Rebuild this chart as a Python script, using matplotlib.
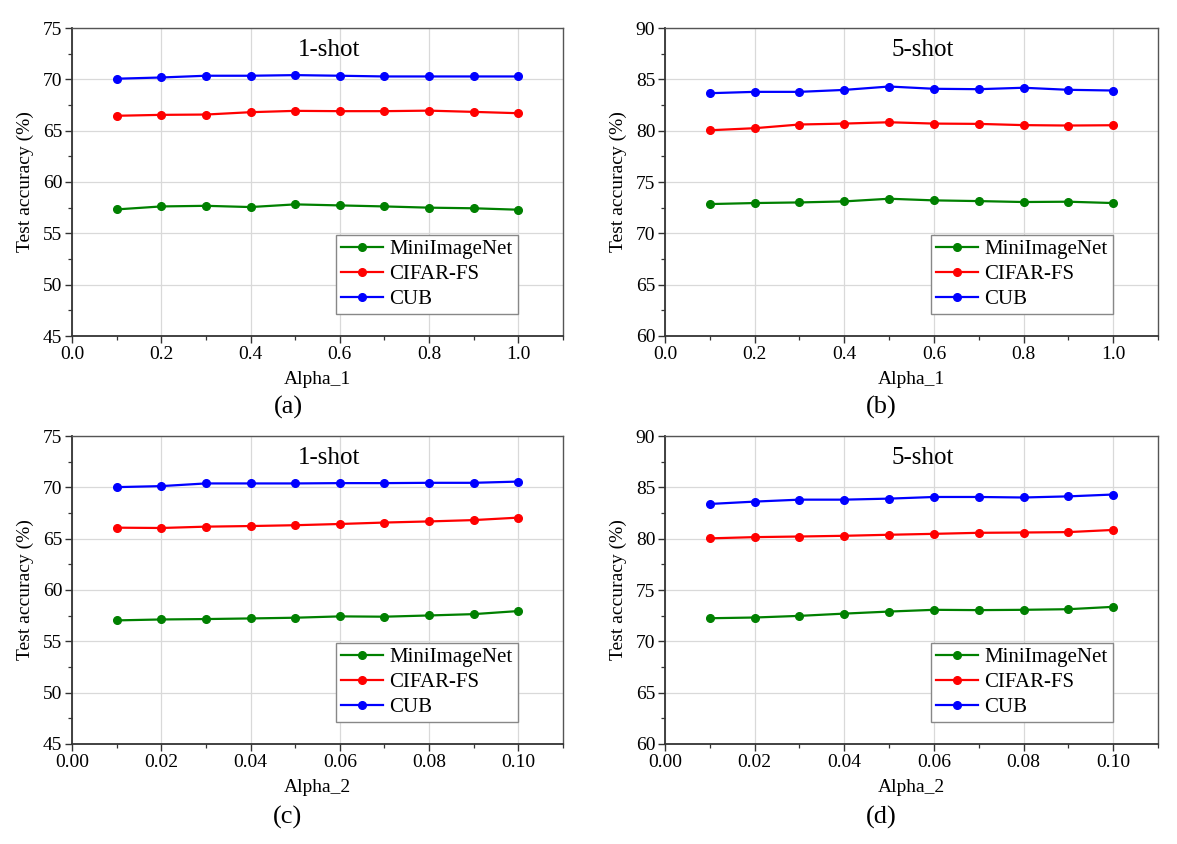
import matplotlib
matplotlib.use("Agg")
import matplotlib.pyplot as plt
from matplotlib.ticker import MultipleLocator, FormatStrFormatter

plt.rcParams['font.family'] = ['Liberation Serif', 'DejaVu Serif']
plt.rcParams['mathtext.fontset'] = 'stix'

# ---------------- data ----------------
alpha1 = [0.1, 0.2, 0.3, 0.4, 0.5, 0.6, 0.7, 0.8, 0.9, 1.0]
alpha2 = [0.01, 0.02, 0.03, 0.04, 0.05, 0.06, 0.07, 0.08, 0.09, 0.10]

# (a) 1-shot vs Alpha_1
a_mini = [57.33, 57.62, 57.68, 57.56, 57.82, 57.72, 57.62, 57.50, 57.44, 57.30]
a_cifar = [66.45, 66.54, 66.57, 66.80, 66.93, 66.90, 66.90, 66.95, 66.83, 66.70]
a_cub = [70.06, 70.18, 70.35, 70.35, 70.41, 70.35, 70.28, 70.28, 70.28, 70.28]

# (b) 5-shot vs Alpha_1
b_mini = [72.85, 72.95, 73.01, 73.11, 73.37, 73.21, 73.14, 73.05, 73.08, 72.95]
b_cifar = [80.04, 80.24, 80.60, 80.69, 80.82, 80.69, 80.66, 80.54, 80.50, 80.53]
b_cub = [83.65, 83.78, 83.78, 83.97, 84.30, 84.08, 84.04, 84.18, 83.98, 83.91]

# (c) 1-shot vs Alpha_2
c_mini = [57.04, 57.13, 57.17, 57.23, 57.30, 57.43, 57.40, 57.52, 57.65, 57.95]
c_cifar = [66.07, 66.04, 66.17, 66.23, 66.31, 66.43, 66.57, 66.68, 66.81, 67.05]
c_cub = [70.02, 70.12, 70.38, 70.38, 70.38, 70.41, 70.41, 70.44, 70.44, 70.56]

# (d) 5-shot vs Alpha_2
d_mini = [72.25, 72.32, 72.48, 72.70, 72.90, 73.07, 73.04, 73.07, 73.13, 73.36]
d_cifar = [80.03, 80.15, 80.21, 80.28, 80.38, 80.47, 80.57, 80.60, 80.64, 80.85]
d_cub = [83.38, 83.61, 83.80, 83.80, 83.90, 84.06, 84.06, 84.01, 84.12, 84.30]

series_names = ["MiniImageNet", "CIFAR-FS", "CUB"]
series_colors = ["#008000", "#ff0000", "#0000ff"]

titles = ["1-shot", "5-shot", "1-shot", "5-shot"]
xlabels = ["Alpha_1", "Alpha_1", "Alpha_2", "Alpha_2"]
panel_labels = ["(a)", "(b)", "(c)", "(d)"]

# ---------------- figure ----------------
W, H = 1177, 844
fig = plt.figure(figsize=(W / 100, H / 100), dpi=100)


def px_axes(left, top, right, bottom):
    return fig.add_axes([left / W, 1 - bottom / H, (right - left) / W, (bottom - top) / H])


panels = [
    dict(box=(72, 28, 563, 336), x=alpha1, ys=(a_mini, a_cifar, a_cub),
         xlim=(0, 1.1), xmaj=0.2, xmin=0.1, xfmt='%.1f', ylim=(45, 75)),
    dict(box=(665, 28, 1158, 336), x=alpha1, ys=(b_mini, b_cifar, b_cub),
         xlim=(0, 1.1), xmaj=0.2, xmin=0.1, xfmt='%.1f', ylim=(60, 90)),
    dict(box=(72, 436, 563, 744), x=alpha2, ys=(c_mini, c_cifar, c_cub),
         xlim=(0, 0.11), xmaj=0.02, xmin=0.01, xfmt='%.2f', ylim=(45, 75)),
    dict(box=(665, 436, 1158, 744), x=alpha2, ys=(d_mini, d_cifar, d_cub),
         xlim=(0, 0.11), xmaj=0.02, xmin=0.01, xfmt='%.2f', ylim=(60, 90)),
]

label_pos = [(288, 407), (881, 407), (288, 817), (881, 817)]

for i, p in enumerate(panels):
    ax = px_axes(*p['box'])
    for y, name, col in zip(p['ys'], series_names, series_colors):
        ax.plot(p['x'], y, '-o', color=col, lw=1.6, markersize=5.5, label=name, zorder=3)
    ax.set_xlim(*p['xlim'])
    ax.set_ylim(*p['ylim'])
    ax.xaxis.set_major_locator(MultipleLocator(p['xmaj']))
    ax.xaxis.set_minor_locator(MultipleLocator(p['xmin']))
    ax.xaxis.set_major_formatter(FormatStrFormatter(p['xfmt']))
    ax.yaxis.set_major_locator(MultipleLocator(5))
    ax.yaxis.set_minor_locator(MultipleLocator(2.5))
    ax.grid(True, which='major', color='#d9d9d9', lw=0.9, zorder=0)
    ax.set_axisbelow(True)
    ax.tick_params(which='major', direction='out', length=5, width=1.0,
                   labelsize=14, color='#333333', pad=2)
    ax.tick_params(which='minor', direction='out', length=3, width=0.9, color='#333333')
    for side in ['left', 'bottom']:
        ax.spines[side].set_color('#333333')
        ax.spines[side].set_linewidth(1.3)
    for side in ['top', 'right']:
        ax.spines[side].set_color('#555555')
        ax.spines[side].set_linewidth(1.0)
    ax.set_xlabel(xlabels[i], fontsize=14, labelpad=6)
    ax.set_ylabel("Test accuracy (%)", fontsize=14, labelpad=6)
    ax.text(0.523, 0.928, titles[i], transform=ax.transAxes, ha='center', va='center',
            fontsize=18)
    leg = ax.legend(loc='lower right', bbox_to_anchor=(0.908, 0.071), borderaxespad=0,
                    fontsize=15, handlelength=2.0, handletextpad=0.3, labelspacing=0.25,
                    borderpad=0.25, fancybox=False, framealpha=1, edgecolor='#888888')
    leg.get_frame().set_linewidth(1.0)
    lx, ly = label_pos[i]
    fig.text(lx / W, 1 - ly / H, panel_labels[i], ha='center', va='center', fontsize=19)

fig.savefig("out.png", dpi=100)
